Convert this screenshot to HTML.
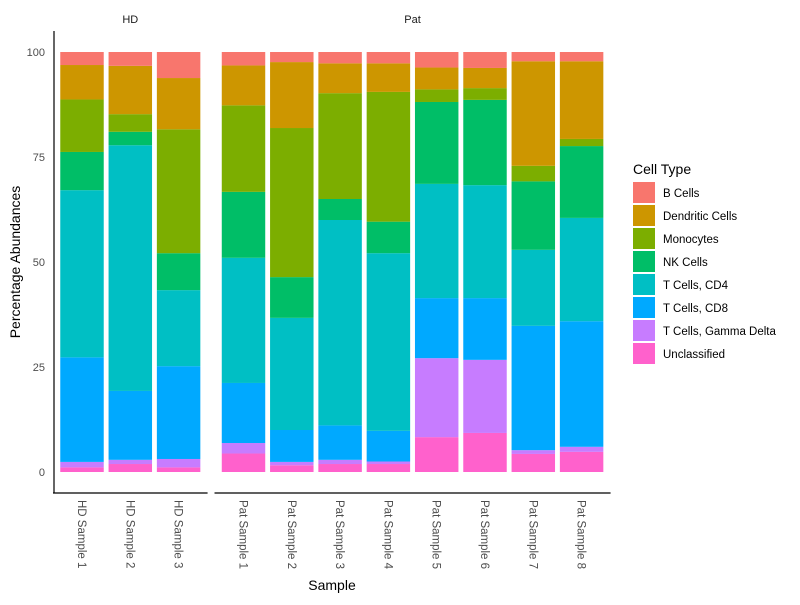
<!DOCTYPE html>
<html><head><meta charset="utf-8"><style>
body{margin:0;background:#fff}
svg{font-family:"Liberation Sans",Arial,sans-serif}
</style></head><body>
<svg id="chart" width="800" height="600" viewBox="0 0 800 600">
<rect width="800" height="600" fill="#fff"/>
</svg>
<script>
const cellTypes = ["B Cells","Dendritic Cells","Monocytes","NK Cells","T Cells, CD4","T Cells, CD8","T Cells, Gamma Delta","Unclassified"];
const colors = ["#F8766D","#CD9600","#7CAE00","#00BE67","#00BFC4","#00A9FF","#C77CFF","#FF61CC"];
const hdSamples = ["HD Sample 1","HD Sample 2","HD Sample 3"];
const patSamples = ["Pat Sample 1","Pat Sample 2","Pat Sample 3","Pat Sample 4","Pat Sample 5","Pat Sample 6","Pat Sample 7","Pat Sample 8"];
// values per sample in order: Unclassified, Gamma Delta, CD8, CD4, NK, Monocytes, Dendritic, B
const hdValues = [
 [1.1,1.3,24.9,39.8,9.1,12.5,8.2,3.1],
 [1.9,1.0,16.4,58.5,3.2,4.2,11.5,3.3],
 [1.1,2.0,22.1,18.1,8.8,29.5,12.2,6.2]
];
const patValues = [
 [4.4,2.5,14.3,29.8,15.7,20.6,9.5,3.2],
 [1.6,0.8,7.6,26.7,9.7,35.5,15.7,2.4],
 [1.9,1.0,8.2,48.9,5.0,25.2,7.1,2.7],
 [1.9,0.6,7.3,42.3,7.5,30.9,6.8,2.7],
 [8.3,18.8,14.3,27.2,19.5,3.0,5.2,3.7],
 [9.3,17.4,14.7,26.9,20.3,2.8,4.8,3.8],
 [4.3,0.9,29.6,18.1,16.3,3.7,24.9,2.2],
 [4.8,1.2,29.9,24.6,17.1,1.7,18.5,2.2]
];
const yTicks = [0,25,50,75,100];

const NS="http://www.w3.org/2000/svg";
const svg=document.getElementById('chart');
function mk(tag,attrs,parent){const e=document.createElementNS(NS,tag);for(const k in attrs)e.setAttribute(k,attrs[k]);(parent||svg).appendChild(e);return e;}
const y0=472, yScale=v=>y0-v*4.2;
const pitch=48.3;
const panels=[{name:"HD",samples:hdSamples,values:hdValues,x0:82},{name:"Pat",samples:patSamples,values:patValues,x0:243.5}];
const stackOrder=[7,6,5,4,3,2,1,0]; // color idx for each value position

// y ticks
yTicks.forEach(t=>{
  const tx=mk('text',{x:45,y:yScale(t)+4,'text-anchor':'end','font-size':11,fill:'#4d4d4d'});
  tx.textContent=t;
  
  
});
const yl=mk('line',{x1:54,y1:31,x2:54,y2:493,stroke:'#000','stroke-width':1.2});



panels.forEach(p=>{
  const n=p.samples.length;
  const left=p.x0-0.6*pitch, right=p.x0+(n-1)*pitch+0.6*pitch;
  const st=mk('text',{x:(left+right)/2,y:23,'text-anchor':'middle','font-size':11,fill:'#1a1a1a'});
  st.textContent=p.name;
  
  
  const al=mk('line',{x1:left,y1:493,x2:right,y2:493,stroke:'#000','stroke-width':1.2});
  
  
  p.samples.forEach((s,i)=>{
    const cx=p.x0+i*pitch, w=pitch*0.9;
    let cum=0;
    p.values[i].forEach((v,j)=>{
      const r=mk('rect',{x:cx-w/2,y:yScale(cum+v),width:w,height:v*4.2,fill:colors[stackOrder[j]]});
      
      
      cum+=v;
    });
    const lab=mk('text',{x:0,y:0,transform:`translate(${cx-4},500) rotate(90)`,'font-size':11.5,fill:'#4d4d4d'});
    lab.textContent=s;
    
    
  });
});

const xt=mk('text',{x:332,y:590,'text-anchor':'middle','font-size':14,fill:'#000'});
xt.textContent='Sample';


const ytt=mk('text',{x:0,y:0,transform:'translate(20,262) rotate(-90)','text-anchor':'middle','font-size':14,fill:'#000'});
ytt.textContent='Percentage Abundances';



const lt=mk('text',{x:633,y:174,'font-size':14,fill:'#000'});
lt.textContent='Cell Type';


cellTypes.forEach((c,i)=>{
  const g=mk('g',{});
  
  
  mk('rect',{x:633,y:182+i*23,width:22,height:21,fill:colors[i]},g);
  const t=mk('text',{x:663,y:197+i*23,'font-size':11.5,fill:'#000'},g);
  t.textContent=c;
});
</script>
</body></html>
